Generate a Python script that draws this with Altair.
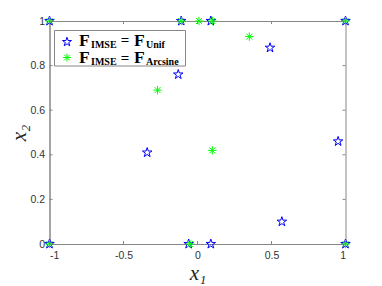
import altair as alt
import pandas as pd

# ---- data ----
unif_x = [-1, -1, 1, 1, -0.11, 0.09, 0.49, -0.13, -0.34, 0.95, 0.57, -0.06, 0.09]
unif_y = [0, 1, 0, 1, 1, 1, 0.88, 0.76, 0.41, 0.46, 0.10, 0, 0]
arc_x = [-1, -1, 1, 1, -0.11, 0.01, 0.10, 0.35, -0.27, 0.10, -0.05]
arc_y = [0, 1, 0, 1, 1, 1, 1, 0.93, 0.69, 0.42, 0]
x_ticks = [-1, -0.5, 0, 0.5, 1]
y_ticks = [0, 0.2, 0.4, 0.6, 0.8, 1]
legend_main = "F"
legend_sub1 = "IMSE"
legend_eq = "="
legend_subs = ["Unif", "Arcsine"]

W, H = 296, 223
GRAY = "#868686"
BLUE = "#0000FF"
GREEN = "#00FF00"
ASTER = "M-1,0L1,0M0,-1L0,1M-0.7,-0.7L0.7,0.7M-0.7,0.7L0.7,-0.7"
STAR = ("M0,-1L0.2245,-0.309L0.951,-0.309L0.363,0.118L0.588,0.809L0,0.382"
        "L-0.588,0.809L-0.363,0.118L-0.951,-0.309L-0.2245,-0.309Z")

unif = pd.DataFrame({"x": unif_x, "y": unif_y})
arc = pd.DataFrame({"x": arc_x, "y": arc_y})
xt = pd.DataFrame({"x": x_ticks})
yt = pd.DataFrame({"y": y_ticks})
dummy = pd.DataFrame({"d": [0]})

xs = alt.Scale(domain=[-1, 1], nice=False, zero=False)
ys = alt.Scale(domain=[0, 1], nice=False, zero=False)

xaxis = alt.Axis(values=x_ticks, labelExpr="'' + datum.value", ticks=False, grid=False,
                 domainColor=GRAY, labelFont="Liberation Sans", labelFontSize=10.5,
                 labelColor="#333333", labelPadding=6, title="x₁",
                 titleFont="Liberation Serif", titleFontStyle="italic",
                 titleFontWeight="normal", titleFontSize=21, titleColor="#222222",
                 titleY=35, titleBaseline="alphabetic")
yaxis = alt.Axis(values=y_ticks, labelExpr="'' + datum.value", ticks=False, grid=False,
                 domainColor=GRAY, labelFont="Liberation Sans", labelFontSize=10.5,
                 labelColor="#333333", labelPadding=5, title="x₂",
                 titleFont="Liberation Serif", titleFontStyle="italic",
                 titleFontWeight="normal", titleFontSize=21, titleColor="#222222",
                 titleX=-30, titleY=H / 2, titleBaseline="middle", titleAlign="center")

blue = alt.Chart(unif).mark_point(shape=STAR, filled=False, stroke=BLUE,
                                  strokeWidth=1, size=100, opacity=1).encode(
    x=alt.X("x:Q", scale=xs, axis=xaxis),
    y=alt.Y("y:Q", scale=ys, axis=yaxis),
)
green = alt.Chart(arc).mark_point(shape=ASTER, filled=False, stroke=GREEN,
                                  strokeWidth=1, size=72, opacity=1).encode(
    x=alt.X("x:Q", scale=xs, axis=xaxis),
    y=alt.Y("y:Q", scale=ys, axis=yaxis),
)

TL = 3
tick_layers = [
    alt.Chart(xt).mark_rule(color=GRAY, strokeWidth=1).encode(
        x=alt.X("x:Q", scale=xs, axis=xaxis), y=alt.value(H), y2=alt.value(H - TL)),
    alt.Chart(xt).mark_rule(color=GRAY, strokeWidth=1).encode(
        x=alt.X("x:Q", scale=xs, axis=xaxis), y=alt.value(0), y2=alt.value(TL)),
    alt.Chart(yt).mark_rule(color=GRAY, strokeWidth=1).encode(
        y=alt.Y("y:Q", scale=ys, axis=yaxis), x=alt.value(0), x2=alt.value(TL)),
    alt.Chart(yt).mark_rule(color=GRAY, strokeWidth=1).encode(
        y=alt.Y("y:Q", scale=ys, axis=yaxis), x=alt.value(W), x2=alt.value(W - TL)),
]

# ---- legend ----
legend_box = alt.Chart(dummy).mark_rect(fill="white", stroke=GRAY, strokeWidth=1).encode(
    x=alt.value(5), x2=alt.value(136), y=alt.value(9.5), y2=alt.value(45))
leg_star = alt.Chart(dummy).mark_point(shape=STAR, filled=False, stroke=BLUE,
                                       strokeWidth=1, size=90, opacity=1).encode(
    x=alt.value(17.5), y=alt.value(21))
leg_aster = alt.Chart(dummy).mark_point(shape=ASTER, filled=False, stroke=GREEN,
                                        strokeWidth=1, size=64, opacity=1).encode(
    x=alt.value(17.5), y=alt.value(36.5))


def txt(s, x, y, size, align="left"):
    return alt.Chart(dummy).mark_text(text=s, font="Liberation Serif", fontWeight="bold",
                                      fontSize=size, align=align, baseline="alphabetic",
                                      color="#000000").encode(
        x=alt.value(x), y=alt.value(y))


legend_text = []
for i, sub in enumerate(legend_subs):
    base = 24.5 + i * 17.5
    legend_text += [
        txt(legend_main, 29.5, base, 17.5),
        txt(legend_sub1, 41.5, base + 2, 10),
        txt(legend_eq, 75.5, base - 0.5, 15, align="center"),
        txt(legend_main, 84.5, base, 17.5),
        txt(sub, 96.5, base + 2, 10),
    ]

chart = alt.layer(blue, green, *tick_layers, legend_box, leg_star, leg_aster,
                  *legend_text).properties(
    width=W, height=H,
    autosize=alt.AutoSizeParams(type="none"),
    padding={"left": 41.5, "top": 13, "right": 20, "bottom": 40},
    background="white",
).configure_view(stroke=GRAY, strokeWidth=1).configure_axis(domainWidth=1)

chart.save("out.html", embed_options={"renderer": "svg", "actions": False})
